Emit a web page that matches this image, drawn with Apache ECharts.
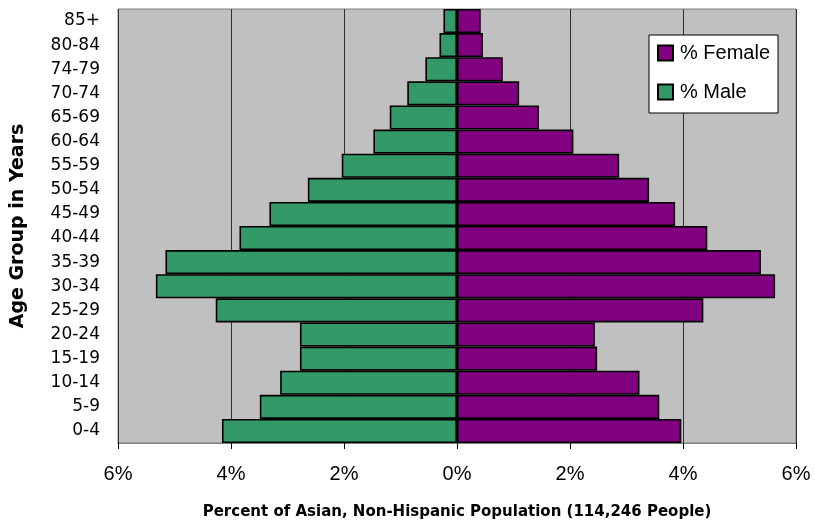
<!DOCTYPE html>
<html>
<head>
<meta charset="utf-8">
<script src="https://cdn.jsdelivr.net/npm/echarts@6/dist/echarts.min.js"></script>
<style>
    html, body { margin: 0; padding: 0; background: #fff; }
    #chart { width: 815px; height: 525px; }
</style>
</head>
<body>
<div id="chart"></div>
<script>
    // age groups, bottom to top
    var ageGroups = ['0-4', '5-9', '10-14', '15-19', '20-24', '25-29', '30-34', '35-39', '40-44',
        '45-49', '50-54', '55-59', '60-64', '65-69', '70-74', '74-79', '80-84', '85+'];
    // percent of population
    var malePct = [4.16, 3.49, 3.13, 2.78, 2.78, 4.27, 5.33, 5.16, 3.85,
        3.32, 2.64, 2.04, 1.48, 1.19, 0.88, 0.56, 0.31, 0.24];
    var femalePct = [3.97, 3.58, 3.23, 2.48, 2.44, 4.36, 5.63, 5.38, 4.43,
        3.86, 3.40, 2.87, 2.06, 1.45, 1.10, 0.81, 0.46, 0.42];
    var xTicks = [-6, -4, -2, 0, 2, 4, 6];

    var chart = echarts.init(document.getElementById('chart'));

    var font = 'Liberation Sans, Arial, sans-serif';
    // the wide-looking texts (age labels, axis titles)
    var wideFont = 'DejaVu Sans, sans-serif';

    var option = {
        animation: false,
        backgroundColor: '#ffffff',
        textStyle: { fontFamily: font },
        grid: {
            left: 118,
            right: 19,
            top: 9,
            bottom: 81,
            show: true,
            backgroundColor: '#C0C0C0',
            borderColor: '#808080',
            borderWidth: 1
        },
        legend: {
            orient: 'vertical',
            left: 649,
            top: 35,
            backgroundColor: '#ffffff',
            borderColor: '#000000',
            borderWidth: 1,
            padding: [8, 8, 11, 8],
            itemGap: 19,
            itemWidth: 15,
            itemHeight: 15,
            icon: 'rect',
            data: ['% Female', '% Male'],
            textStyle: { fontSize: 20, color: '#000', fontFamily: font, padding: [0, 0, 0, 2] }
        },
        xAxis: {
            type: 'value',
            min: -6,
            max: 6,
            interval: 2,
            name: 'Percent of Asian, Non-Hispanic Population (114,246 People)',
            nameLocation: 'middle',
            nameGap: 62,
            nameTextStyle: { fontSize: 15, fontWeight: 'bold', color: '#000', fontFamily: wideFont },
            axisLine: { show: true, lineStyle: { color: '#808080', width: 1 } },
            axisTick: { show: true, length: 6, lineStyle: { color: '#000' } },
            splitLine: { show: true, lineStyle: { color: '#303030', width: 1 } },
            axisLabel: {
                margin: 21,
                fontSize: 20,
                color: '#000',
                formatter: function (v) {
                    return xTicks.indexOf(v) >= 0 ? Math.abs(v) + '%' : '';
                }
            }
        },
        yAxis: {
            type: 'category',
            data: ageGroups,
            name: 'Age Group in Years',
            nameLocation: 'middle',
            nameRotate: 90,
            nameGap: 90,
            nameTextStyle: { fontSize: 19, fontWeight: 'bold', color: '#000', fontFamily: wideFont },
            axisLine: { show: false },
            axisTick: { show: false },
            axisLabel: { margin: 18, fontSize: 17, color: '#000', fontFamily: wideFont }
        },
        series: [
            {
                name: '% Male',
                type: 'bar',
                stack: 'pop',
                barCategoryGap: 0,
                itemStyle: { color: '#339966', borderColor: '#000', borderWidth: 1.6 },
                data: malePct.map(function (v) { return -v; })
            },
            {
                name: '% Female',
                type: 'bar',
                stack: 'pop',
                barCategoryGap: 0,
                itemStyle: { color: '#800080', borderColor: '#000', borderWidth: 1.6 },
                data: femalePct
            }
        ]
    };

    chart.setOption(option);
</script>
</body>
</html>
